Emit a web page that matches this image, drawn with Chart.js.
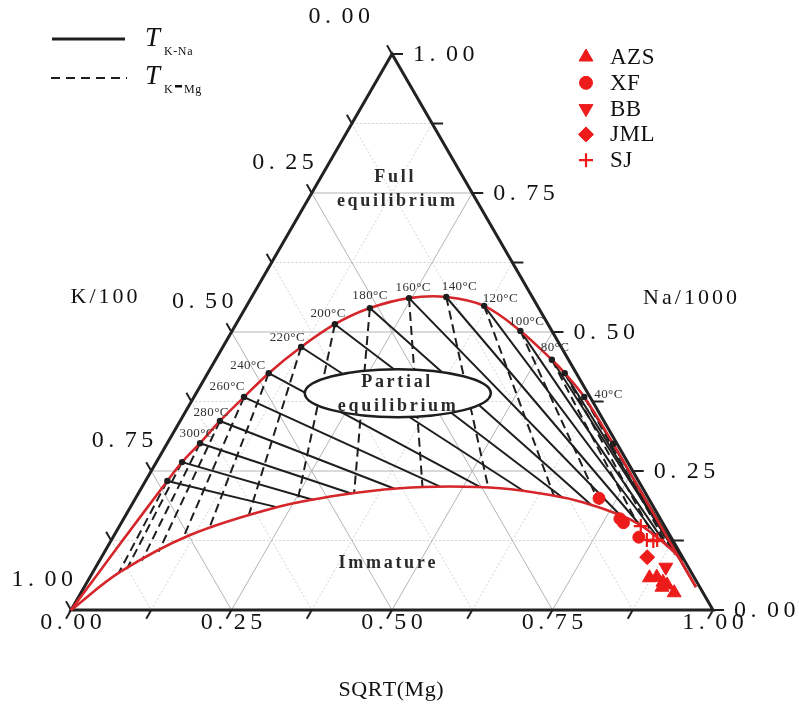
<!DOCTYPE html>
<html>
<head>
<meta charset="utf-8">
<script src="https://cdn.jsdelivr.net/npm/chart.js@4.4.1/dist/chart.umd.min.js"></script>
<style>
  html, body { margin: 0; padding: 0; background: #fff; }
  #wrap { width: 799px; height: 706px; }
</style>
</head>
<body>
<div id="wrap"><canvas id="ternary" width="799" height="706"></canvas></div>
<script>
// Na-K-Mg ternary plot. Every point is [SQRT(Mg), Na/1000] as fractions; K/100 is the rest.
const TICKS = [0, 0.25, 0.5, 0.75, 1];
const MINOR_TICKS = [0.125, 0.375, 0.625, 0.875];

// isotherms, hottest first
const TEMPS = [340, 320, 300, 280, 260, 240, 220, 200, 180, 160, 140, 120, 100, 80, 60, 40, 20];
const LABELED = [300, 280, 260, 240, 220, 200, 180, 160, 140, 120, 100, 80, 40];

// where each isotherm sits on the full equilibrium line
const TEMP_POINTS = [
  [0.034, 0.232], [0.040, 0.266], [0.051, 0.300], [0.062, 0.340], [0.078, 0.383],
  [0.095, 0.426], [0.122, 0.473], [0.154, 0.514], [0.194, 0.543], [0.246, 0.561],
  [0.303, 0.563], [0.370, 0.547], [0.449, 0.502], [0.524, 0.450], [0.556, 0.426],
  [0.608, 0.383], [0.695, 0.299]
];
// K-Na isotherm ends (on the immature line)
const KNA_ENDS = [
  [0.228, 0.185], [0.279, 0.198], [0.333, 0.209], [0.395, 0.218], [0.464, 0.222],
  [0.527, 0.221], [0.598, 0.214], [0.665, 0.202], [0.716, 0.189], [0.771, 0.170],
  [0.811, 0.152], [0.855, 0.125], [0.872, 0.114], [0.897, 0.097], [0.900, 0.094],
  [0.908, 0.089], [0.922, 0.072]
];
// K-Mg isotherm ends (on the immature line)
const KMG_ENDS = [
  [0.041, 0.067], [0.050, 0.075], [0.066, 0.089], [0.084, 0.105], [0.110, 0.128],
  [0.142, 0.146], [0.192, 0.169], [0.256, 0.192], [0.336, 0.210], [0.437, 0.221],
  [0.540, 0.220], [0.649, 0.206], [0.736, 0.182], [0.805, 0.155], [0.838, 0.136],
  [0.874, 0.113], [0.890, 0.100]
];

const FULL_EQ = [
  [0, 0], [0.017, 0.119],
  [0.034, 0.232], [0.040, 0.266], [0.051, 0.300], [0.062, 0.340], [0.078, 0.383],
  [0.095, 0.426], [0.122, 0.473], [0.154, 0.514], [0.194, 0.543], [0.246, 0.561],
  [0.303, 0.563], [0.370, 0.547], [0.449, 0.502], [0.524, 0.450], [0.556, 0.426],
  [0.608, 0.383], [0.695, 0.299],
  [0.794, 0.200], [0.894, 0.100], [0.953, 0.041]
];
const IMMATURE = [
  [0, 0], [0.042, 0.068], [0.118, 0.135], [0.228, 0.185], [0.316, 0.207],
  [0.403, 0.219], [0.479, 0.222], [0.559, 0.219], [0.643, 0.207], [0.700, 0.194],
  [0.770, 0.171], [0.810, 0.153], [0.855, 0.126], [0.894, 0.099], [0.922, 0.072],
  [0.953, 0.041]
];

// samples
const AZS = [[0.872, 0.058], [0.883, 0.059], [0.897, 0.050], [0.906, 0.045], [0.900, 0.041], [0.924, 0.031]];
const XF  = [[0.722, 0.201], [0.773, 0.164], [0.782, 0.157], [0.819, 0.131]];
const BB  = [[0.888, 0.077]];
const JML = [[0.850, 0.095]];
const SJ  = [[0.812, 0.151], [0.834, 0.126], [0.845, 0.124], [0.850, 0.126]];

const SIN60 = Math.sqrt(3) / 2;
const toXY = p => ({ x: p[0] + p[1] / 2, y: p[1] * SIN60 });

const RED = '#d5262c';
const MARK = '#ee1b1b';
const INK = '#1e1e1e';

// label nudges for the isotherm temperatures, in px from the dot
const LABEL_SHIFT = {
  300: [-3, -10], 280: [-9, -8], 260: [-17, -10], 240: [-21, -8], 220: [-14, -9],
  200: [-7, -11], 180: [0, -13], 160: [4, -11], 140: [13, -10], 120: [16, -7],
  100: [6, -9], 80: [3, -12], 40: [24, -2]
};

function spaced(ctx, str, x, y, extra, align) {
  const chars = [...str];
  const w = chars.map(c => ctx.measureText(c).width);
  const total = w.reduce((a, b) => a + b, 0) + extra * (chars.length - 1);
  let cx = align === 'center' ? x - total / 2 : align === 'right' ? x - total : x;
  ctx.textAlign = 'left';
  chars.forEach((c, i) => { ctx.fillText(c, cx, y); cx += w[i] + extra; });
}

// tick numbers are set on a fixed pitch
function mono(ctx, str, x, y, align) {
  const pitch = 16.5;
  const chars = [...str];
  const total = pitch * (chars.length - 1) + ctx.measureText(chars[chars.length - 1]).width;
  let cx = align === 'center' ? x - total / 2 : align === 'right' ? x - total : x;
  ctx.textAlign = 'left';
  chars.forEach(c => { ctx.fillText(c, cx, y); cx += pitch; });
}

const ternaryFrame = {
  id: 'ternaryFrame',
  beforeDatasetsDraw(chart) {
    const { ctx, scales } = chart;
    const px = p => { const q = toXY(p); return [scales.x.getPixelForValue(q.x), scales.y.getPixelForValue(q.y)]; };
    const seg = (a, b) => { const A = px(a), B = px(b); ctx.beginPath(); ctx.moveTo(A[0], A[1]); ctx.lineTo(B[0], B[1]); ctx.stroke(); };
    ctx.save();
    // grid
    const gridAt = (v, solid) => {
      ctx.strokeStyle = solid ? '#b4b4b4' : '#d2d2d2';
      ctx.setLineDash(solid ? [] : [2, 2]);
      ctx.lineWidth = 1;
      seg([0, v], [1 - v, v]);     // Na const
      seg([v, 0], [v, 1 - v]);     // Mg const
      seg([0, 1 - v], [1 - v, 0]); // K const
    };
    MINOR_TICKS.forEach(v => gridAt(v, false));
    TICKS.slice(1, -1).forEach(v => gridAt(v, true));
    ctx.setLineDash([]);

    // triangle
    ctx.strokeStyle = '#222';
    ctx.lineWidth = 3;
    ctx.lineJoin = 'miter';
    const a = px([0, 0]), b = px([1, 0]), c = px([0, 1]);
    ctx.beginPath(); ctx.moveTo(a[0], a[1]); ctx.lineTo(b[0], b[1]); ctx.lineTo(c[0], c[1]); ctx.closePath(); ctx.stroke();

    // ticks
    ctx.lineWidth = 2;
    const len = 10;
    [...TICKS, ...MINOR_TICKS].forEach(t => {
      let [x, y] = px([t, 0]);
      ctx.beginPath(); ctx.moveTo(x, y); ctx.lineTo(x - len * 0.5, y + len * SIN60); ctx.stroke();
      [x, y] = px([1 - t, t]);
      ctx.beginPath(); ctx.moveTo(x, y); ctx.lineTo(x + len + 1, y); ctx.stroke();
      [x, y] = px([0, 1 - t]);
      ctx.beginPath(); ctx.moveTo(x, y); ctx.lineTo(x - len * 0.5, y - len * SIN60); ctx.stroke();
    });
    ctx.restore();
  },
  afterDatasetsDraw(chart) {
    const { ctx, scales } = chart;
    const px = p => { const q = toXY(p); return [scales.x.getPixelForValue(q.x), scales.y.getPixelForValue(q.y)]; };
    ctx.save();
    ctx.textBaseline = 'middle';

    // temperature labels
    ctx.fillStyle = '#333';
    ctx.font = '13px "Liberation Serif", serif';
    TEMPS.forEach((t, i) => {
      if (!LABELED.includes(t)) return;
      const [x, y] = px(TEMP_POINTS[i]);
      const s = LABEL_SHIFT[t];
      spaced(ctx, t + '°C', x + s[0], y + s[1], 0.4, 'center');
    });

    // partial equilibrium bubble
    const [ex, ey] = px([0.314, 0.390]);
    ctx.beginPath();
    ctx.ellipse(ex, ey, 93, 24, 0, 0, Math.PI * 2);
    ctx.fillStyle = '#fff';
    ctx.fill();
    ctx.lineWidth = 2.5;
    ctx.strokeStyle = INK;
    ctx.stroke();

    ctx.fillStyle = '#2a2a2a';
    ctx.font = 'bold 18px "Liberation Serif", serif';
    spaced(ctx, 'Partial', ex - 2, ey - 11, 2.7, 'center');
    spaced(ctx, 'equilibrium', ex - 1, ey + 13, 2.7, 'center');
    const [fx, fy] = px([0.126, 0.757]);
    spaced(ctx, 'Full', fx - 1, fy - 12, 2.7, 'center');
    spaced(ctx, 'equilibrium', fx + 1, fy + 12, 2.7, 'center');
    const [ix, iy] = px([0.450, 0.0845]);
    spaced(ctx, 'Immature', ix, iy, 2.7, 'center');

    // axis numbers
    ctx.fillStyle = '#111';
    ctx.font = '24px "Liberation Serif", serif';
    TICKS.forEach(t => {
      const lab = t.toFixed(2);
      let [x, y] = px([t, 0]);
      mono(ctx, lab, x, y + 13, 'center');
      [x, y] = px([1 - t, t]);
      mono(ctx, lab, x + 21, y + 1, 'left');
      [x, y] = px([0, 1 - t]);
      if (t === 0) mono(ctx, lab, x - 22, y - 37, 'right');
      else mono(ctx, lab, x + 2, y - 30, 'right');
    });

    // axis titles
    ctx.font = '22px "Liberation Serif", serif';
    spaced(ctx, 'K/100', 104, 297, 3, 'center');
    spaced(ctx, 'Na/1000', 690, 298, 3, 'center');
    spaced(ctx, 'SQRT(Mg)', 391, 690, 0.5, 'center');

    // isotherm key
    ctx.strokeStyle = INK;
    ctx.lineWidth = 3;
    ctx.beginPath(); ctx.moveTo(52, 39); ctx.lineTo(125, 39); ctx.stroke();
    ctx.lineWidth = 2;
    ctx.setLineDash([9, 6]);
    ctx.beginPath(); ctx.moveTo(51, 78); ctx.lineTo(127, 78); ctx.stroke();
    ctx.setLineDash([]);
    ctx.textBaseline = 'alphabetic';
    ctx.fillStyle = '#111';
    ctx.font = 'italic 27px "Liberation Serif", serif';
    ctx.fillText('T', 145, 46);
    ctx.fillText('T', 145, 84);
    ctx.font = '12px "Liberation Serif", serif';
    spaced(ctx, 'K-Na', 164, 55, 0.6, 'left');
    spaced(ctx, 'K', 164, 93, 0, 'left');
    ctx.fillRect(175, 85, 7, 2.5);
    spaced(ctx, 'Mg', 184, 93, 0.6, 'left');

    // sample key
    const keys = [
      ['AZS', 'triangle', 0, 8], ['XF', 'circle', 0, 6.5], ['BB', 'triangle', 180, 8],
      ['JML', 'rectRot', 0, 7.5], ['SJ', 'cross', 0, 7]
    ];
    ctx.textBaseline = 'middle';
    ctx.font = '23px "Liberation Serif", serif';
    keys.forEach(([name, style, rot, r], i) => {
      const y = 57 + i * 25.8;
      ctx.fillStyle = MARK;
      ctx.strokeStyle = MARK;
      ctx.lineWidth = style === 'cross' ? 2.2 : 1;
      Chart.helpers.drawPoint(ctx, { pointStyle: style, rotation: rot, radius: r, borderWidth: ctx.lineWidth }, 586, y);
      ctx.fillStyle = '#111';
      spaced(ctx, name, 610, y + 1, 0.5, 'left');
    });
    ctx.restore();
  }
};

const line = (pts, extra) => Object.assign({
  data: pts.map(toXY), showLine: true, pointRadius: 0, fill: false
}, extra);

const sample = (name, pts, style, r, extra) => Object.assign({
  label: name, data: pts.map(toXY), pointStyle: style, pointRadius: r,
  backgroundColor: MARK, borderColor: MARK, borderWidth: 1, order: 0
}, extra);

const datasets = [
  sample('AZS', AZS, 'triangle', 8),
  sample('XF', XF, 'circle', 6),
  sample('BB', BB, 'triangle', 8, { rotation: 180 }),
  sample('JML', JML, 'rectRot', 7.5),
  sample('SJ', SJ, 'cross', 7, { borderWidth: 2.2 }),
  { data: TEMP_POINTS.map(toXY), pointRadius: 3.2, backgroundColor: INK, borderWidth: 0, order: 1 },
  line(FULL_EQ, { borderColor: RED, borderWidth: 2.6, tension: 0.35, order: 2 }),
  line(IMMATURE, { borderColor: RED, borderWidth: 2.6, tension: 0.35, order: 2 }),
  ...TEMP_POINTS.map((p, i) => line([p, KNA_ENDS[i]], { borderColor: INK, borderWidth: 2, order: 3 })),
  ...TEMP_POINTS.map((p, i) => line([p, KMG_ENDS[i]], { borderColor: INK, borderWidth: 2, borderDash: [9, 5], order: 4 }))
];

new Chart(document.getElementById('ternary'), {
  type: 'scatter',
  data: { datasets },
  options: {
    responsive: false,
    animation: false,
    layout: { padding: 0, autoPadding: false },
    scales: {
      x: { type: 'linear', display: false, min: -71 / 642, max: 728 / 642 },
      y: { type: 'linear', display: false, min: -96 / 642, max: 610 / 642 }
    },
    plugins: { legend: { display: false }, tooltip: { enabled: false } }
  },
  plugins: [ternaryFrame]
});
</script>
</body>
</html>
